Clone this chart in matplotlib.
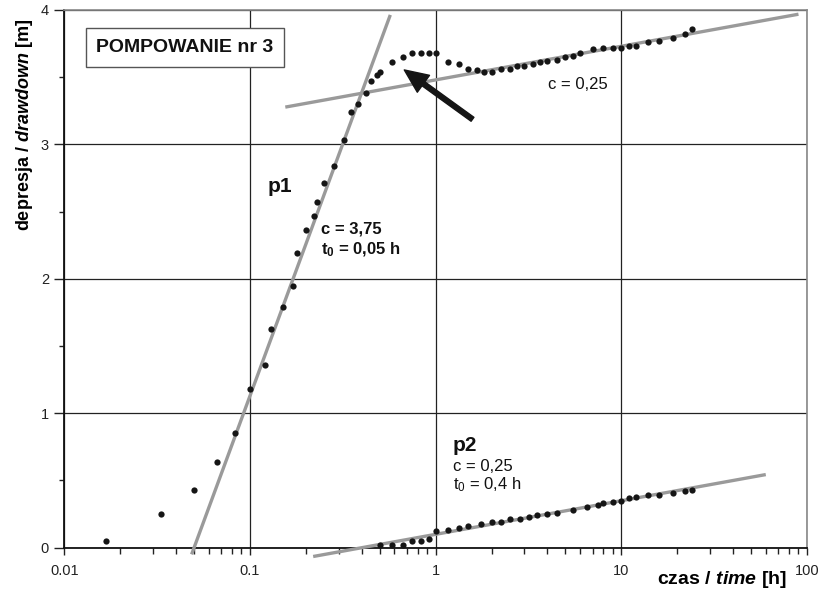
import numpy as np
import matplotlib
matplotlib.use("Agg")
import matplotlib.pyplot as plt

plt.rcParams['font.family'] = ['Liberation Sans', 'DejaVu Sans']
plt.rcParams['mathtext.fontset'] = 'custom'
plt.rcParams['mathtext.rm'] = 'Liberation Sans'
plt.rcParams['mathtext.it'] = 'Liberation Sans:italic'
plt.rcParams['mathtext.bf'] = 'Liberation Sans:bold'
plt.rcParams['mathtext.bfit'] = 'Liberation Sans:italic:bold'

# pompowanie - czas [h] i depresja [m]
t_pump = [0.0167, 0.0333, 0.05, 0.0667, 0.0833, 0.1, 0.12, 0.13, 0.15, 0.17,
          0.18, 0.2, 0.22, 0.23, 0.25, 0.283, 0.32, 0.35, 0.38, 0.42,
          0.45, 0.483, 0.5, 0.58, 0.67, 0.75, 0.83, 0.92, 1.0, 1.17,
          1.33, 1.5, 1.67, 1.83, 2.0, 2.25, 2.5, 2.75, 3.0, 3.33,
          3.67, 4.0, 4.5, 5.0, 5.5, 6.0, 7.0, 8.0, 9.0, 10.0,
          11.0, 12.0, 14.0, 16.0, 19.0, 22.0, 24.0]
s_pump = [0.05, 0.25, 0.43, 0.64, 0.85, 1.18, 1.36, 1.63, 1.79, 1.95,
          2.19, 2.36, 2.47, 2.57, 2.71, 2.84, 3.03, 3.24, 3.30, 3.38,
          3.47, 3.52, 3.54, 3.61, 3.65, 3.68, 3.68, 3.68, 3.68, 3.61,
          3.60, 3.56, 3.55, 3.54, 3.54, 3.56, 3.56, 3.58, 3.58, 3.60,
          3.61, 3.62, 3.63, 3.65, 3.66, 3.68, 3.71, 3.72, 3.72, 3.72,
          3.73, 3.73, 3.76, 3.77, 3.79, 3.82, 3.86]

# druga seria (p2)
t_p2 = [0.5, 0.58, 0.67, 0.75, 0.83, 0.92, 1.0, 1.17, 1.33, 1.5,
        1.75, 2.0, 2.25, 2.5, 2.83, 3.17, 3.5, 4.0, 4.5, 5.5,
        6.5, 7.5, 8.0, 9.0, 10.0, 11.0, 12.0, 14.0, 16.0, 19.0,
        22.0, 24.0]
s_p2 = [0.02, 0.02, 0.02, 0.05, 0.05, 0.065, 0.125, 0.135, 0.15, 0.16,
        0.18, 0.19, 0.19, 0.21, 0.21, 0.23, 0.24, 0.25, 0.26, 0.28,
        0.30, 0.32, 0.33, 0.34, 0.35, 0.37, 0.38, 0.39, 0.39, 0.41,
        0.42, 0.43]

# proste Jacoba: s = c * log10(t / t0)
c_p1, t0_p1 = 3.75, 0.05
c_p2, t0_p2 = 0.25, 0.4
c_late, s_late_1h = 0.25, 3.48   # druga prosta pompowania (s przy t = 1 h)

x_ticks = [0.01, 0.1, 1, 10, 100]
x_labels = ['0.01', '0.1', '1', '10', '100']
y_ticks = [0, 1, 2, 3, 4]

fig = plt.figure(figsize=(8.2, 5.98), dpi=100)
ax = fig.add_axes([0.0784, 0.0841, 0.9057, 0.8992])

line_kw = dict(color='#9a9a9a', lw=2.4, solid_capstyle='butt', clip_on=False, zorder=3)
t = np.logspace(np.log10(0.0485), np.log10(0.57), 50)
ax.plot(t, c_p1 * np.log10(t / t0_p1), **line_kw)
t = np.logspace(np.log10(0.155), np.log10(90), 50)
ax.plot(t, s_late_1h + c_late * np.log10(t), **line_kw)
t = np.logspace(np.log10(0.219), np.log10(60), 50)
ax.plot(t, c_p2 * np.log10(t / t0_p2), **line_kw)

dot_kw = dict(ls='none', marker='o', ms=4.5, color='#151515', mec='none', zorder=4, clip_on=False)
ax.plot(t_pump, s_pump, **dot_kw)
ax.plot(t_p2, s_p2, **dot_kw)

ax.set_xscale('log')
ax.set_xlim(0.01, 100)
ax.set_ylim(0, 4)
ax.set_xticks(x_ticks, labels=x_labels)
ax.set_xticks([m * d for d in [0.01, 0.1, 1, 10] for m in range(2, 10)], minor=True)
ax.set_yticks(y_ticks)
ax.set_yticks([0.5, 1.5, 2.5, 3.5], minor=True)
ax.tick_params(which='major', direction='out', width=1, labelsize=10.5, colors='#222222')
ax.tick_params(which='minor', direction='out', length=4, width=1, color='#222222')
ax.tick_params(axis='x', which='major', length=5, pad=7)
ax.tick_params(axis='y', which='major', length=7, pad=4)
ax.tick_params(axis='y', which='minor', length=3.5)

ax.grid(True, which='major', color='#222222', lw=0.9)
ax.set_axisbelow(True)
for side in ['left', 'bottom']:
    ax.spines[side].set_color('#111111')
    ax.spines[side].set_linewidth(1.3)
for side in ['top', 'right']:
    ax.spines[side].set_color('#888888')
    ax.spines[side].set_linewidth(1.2)

ax.set_ylabel(r'$\mathbf{depresja\ /\ }\mathbfit{drawdown}\mathbf{\ [m]}$', fontsize=13)
ax.yaxis.label.set_va('center')
ax.yaxis.set_label_coords(-0.053, 0.786)
ax.set_xlabel(r'$\mathbf{czas\ /\ }\mathbfit{time}\mathbf{\ [h]}$', fontsize=14)
ax.xaxis.label.set(ha='right', va='center')
ax.xaxis.set_label_coords(0.973, -0.06)

ax.text(0.1625, 0.930, 'POMPOWANIE nr 3', transform=ax.transAxes, ha='center', va='center',
        fontsize=14, fontweight='bold', color='#111111',
        bbox=dict(boxstyle='square,pad=0.55', fc='white', ec='#555555', lw=1))

ax.text(0.125, 2.644, 'p1', fontsize=15, fontweight='bold', color='#111111')
ax.text(0.2403, 2.334, 'c = 3,75', fontsize=12, fontweight='bold', color='#111111')
ax.text(0.2403, 2.183, r't$_\mathbf{0}$ = 0,05 h', fontsize=12, fontweight='bold', color='#111111')
ax.text(4.04, 3.411, 'c = 0,25', fontsize=12, color='#111111')
ax.text(1.235, 0.722, 'p2', fontsize=15, fontweight='bold', color='#111111')
ax.text(1.235, 0.573, 'c = 0,25', fontsize=12, color='#111111')
ax.text(1.235, 0.435, r't$_0$ = 0,4 h', fontsize=12, color='#111111')

ax.annotate('', xy=(0.678, 3.554), xytext=(1.58, 3.187),
            arrowprops=dict(width=3.5, headwidth=15, headlength=17, color='#151515', shrink=0))

fig.savefig('out.png', dpi=100)
